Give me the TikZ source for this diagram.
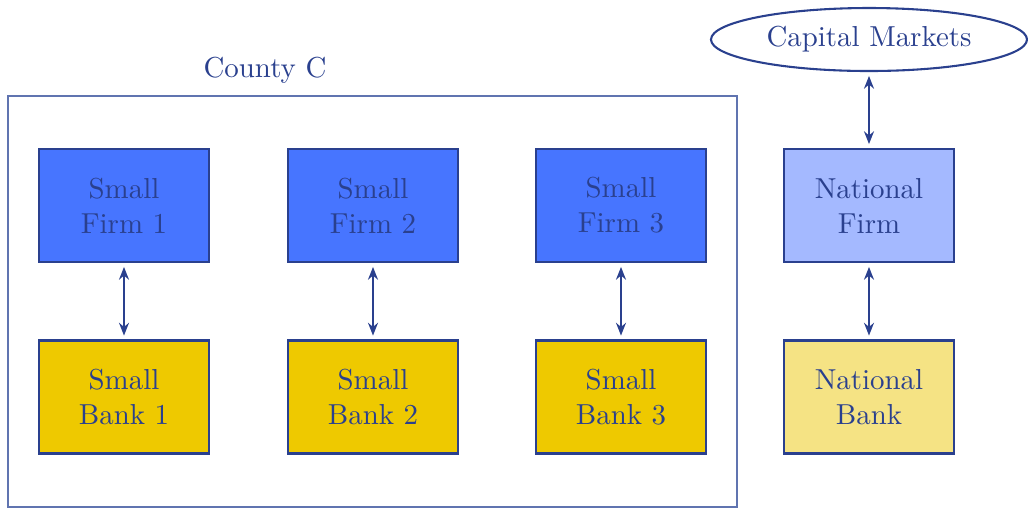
\documentclass[tikz,border=0pt]{standalone}
\usetikzlibrary{arrows.meta,shapes.geometric}
\definecolor{ink}{RGB}{42,64,142}
\definecolor{frame}{RGB}{96,116,176}
\definecolor{firmblue}{RGB}{71,117,255}
\definecolor{bankgold}{RGB}{238,201,0}
\definecolor{natblue}{RGB}{164,185,255}
\definecolor{natgold}{RGB}{245,227,132}
\begin{document}
\begin{tikzpicture}[x=0.36pt,y=-0.36pt,
  every node/.style={text=ink, font=\fontsize{10.4}{12.6}\selectfont},
  unit/.style={draw=ink, line width=0.75pt, minimum width=170*0.36pt,
    minimum height=113*0.36pt, align=center, inner sep=0pt},
  firm/.style={unit, fill=firmblue},
  bank/.style={unit, fill=bankgold},
  natfirm/.style={unit, fill=natblue},
  natbank/.style={unit, fill=natgold},
  link/.style={draw=ink, line width=0.65pt, {Stealth[length=4.6pt,width=3.6pt]}-{Stealth[length=4.6pt,width=3.6pt]},
    shorten <=1.4pt, shorten >=1.4pt}]
  \useasboundingbox (0,0) rectangle (1028,509);

  % county boundary and its label
  \node[draw=frame, line width=0.45pt, minimum width=729*0.36pt, minimum height=411*0.36pt,
    inner sep=0pt] (county) at (372.5,301.5) {};
  \node (countylabel) at (265,70) {County C};

  % firms
  \node[firm] (f1) at (124,205.5) {Small\\Firm 1};
  \node[firm] (f2) at (373,205.5) {Small\\Firm 2};
  \node[firm] (f3) at (621,205.5) {Small\\Firm 3};
  \node[natfirm] (nf) at (869,205.5) {National\\Firm};

  % banks
  \node[bank] (b1) at (124,397) {Small\\Bank 1};
  \node[bank] (b2) at (373,397) {Small\\Bank 2};
  \node[bank] (b3) at (621,397) {Small\\Bank 3};
  \node[natbank] (nb) at (869,397) {National\\Bank};

  % capital markets
  \node[ellipse, draw=ink, line width=0.75pt, minimum width=316*0.36pt,
    minimum height=63*0.36pt, inner sep=0pt] (cm) at (869,39.5) {Capital Markets};

  % lending relationships
  \draw[link] (f1) -- (b1);
  \draw[link] (f2) -- (b2);
  \draw[link] (f3) -- (b3);
  \draw[link] (nf) -- (nb);
  \draw[link] (cm) -- (nf);
\end{tikzpicture}
\end{document}
